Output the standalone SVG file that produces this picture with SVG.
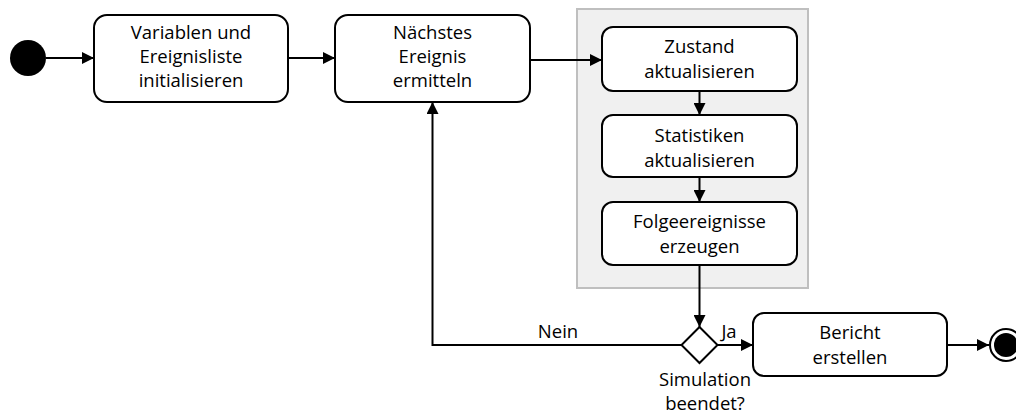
<svg xmlns="http://www.w3.org/2000/svg" width="1016" height="414" viewBox="0 0 1016 414">
  <style>
    .box { fill: #ffffff; stroke: #000000; stroke-width: 2; }
    .lbl { font-family: "Open Sans", "Liberation Sans", sans-serif; font-size: 18.5px; fill: #000000; text-anchor: middle; }
    .edge { fill: none; stroke: #000000; stroke-width: 2; }
  </style>
  <defs>
    <marker id="arrow" viewBox="0 0 12 12" refX="12" refY="6" markerWidth="12" markerHeight="12" markerUnits="userSpaceOnUse" orient="auto">
      <path d="M0,0 L12,6 L0,12 Z" fill="#000000"/>
    </marker>
  </defs>

  <!-- group frame for the per-event steps -->
  <rect id="event-frame" x="577" y="9" width="231" height="279" fill="#f0f0f0" stroke="#bfbfbf" stroke-width="2"/>

  <g id="connectors">
    <line class="edge" x1="46" y1="58" x2="94" y2="58" marker-end="url(#arrow)"/>
    <line class="edge" x1="288" y1="58" x2="335" y2="58" marker-end="url(#arrow)"/>
    <line class="edge" x1="530" y1="60" x2="602" y2="60" marker-end="url(#arrow)"/>
    <line class="edge" x1="699.5" y1="91" x2="699.5" y2="115" marker-end="url(#arrow)"/>
    <line class="edge" x1="699.5" y1="177" x2="699.5" y2="202" marker-end="url(#arrow)"/>
    <line class="edge" x1="699.5" y1="265" x2="699.5" y2="327" marker-end="url(#arrow)"/>
    <polyline class="edge" points="681.5,345 432.5,345 432.5,102" marker-end="url(#arrow)"/>
    <line class="edge" x1="717.5" y1="345" x2="753" y2="345" marker-end="url(#arrow)"/>
    <line class="edge" x1="947" y1="345" x2="989" y2="345" marker-end="url(#arrow)"/>
    <text class="lbl" x="558" y="338">Nein</text>
    <text class="lbl" x="729" y="338">Ja</text>
  </g>

  <g id="start">
    <circle cx="28" cy="58" r="18" fill="#000000"/>
  </g>

  <g id="init">
    <rect class="box" x="94" y="15" width="194" height="87" rx="13"/>
    <text class="lbl" x="191" y="39">Variablen und</text>
    <text class="lbl" x="191" y="63">Ereignisliste</text>
    <text class="lbl" x="191" y="87">initialisieren</text>
  </g>

  <g id="next-event">
    <rect class="box" x="335" y="15" width="195" height="87" rx="13"/>
    <text class="lbl" x="432.5" y="39">Nächstes</text>
    <text class="lbl" x="432.5" y="63">Ereignis</text>
    <text class="lbl" x="432.5" y="87">ermitteln</text>
  </g>

  <g id="update-state">
    <rect class="box" x="602" y="27" width="195" height="64" rx="11"/>
    <text class="lbl" x="699.5" y="53">Zustand</text>
    <text class="lbl" x="699.5" y="78">aktualisieren</text>
  </g>

  <g id="update-stats">
    <rect class="box" x="602" y="115" width="195" height="62" rx="11"/>
    <text class="lbl" x="699.5" y="142">Statistiken</text>
    <text class="lbl" x="699.5" y="167">aktualisieren</text>
  </g>

  <g id="follow-events">
    <rect class="box" x="602" y="202" width="195" height="63" rx="11"/>
    <text class="lbl" x="699.5" y="228">Folgeereignisse</text>
    <text class="lbl" x="699.5" y="253">erzeugen</text>
  </g>

  <g id="decision">
    <polygon points="699.5,327 717.5,345 699.5,363 681.5,345" fill="#ffffff" stroke="#000000" stroke-width="2"/>
    <text class="lbl" x="705" y="386">Simulation</text>
    <text class="lbl" x="705" y="410">beendet?</text>
  </g>

  <g id="report">
    <rect class="box" x="753" y="313" width="194" height="63" rx="11"/>
    <text class="lbl" x="850" y="339">Bericht</text>
    <text class="lbl" x="850" y="364">erstellen</text>
  </g>

  <g id="end">
    <circle cx="1006" cy="345" r="16" fill="#ffffff" stroke="#000000" stroke-width="2"/>
    <circle cx="1006" cy="345" r="12" fill="#000000"/>
  </g>
</svg>
